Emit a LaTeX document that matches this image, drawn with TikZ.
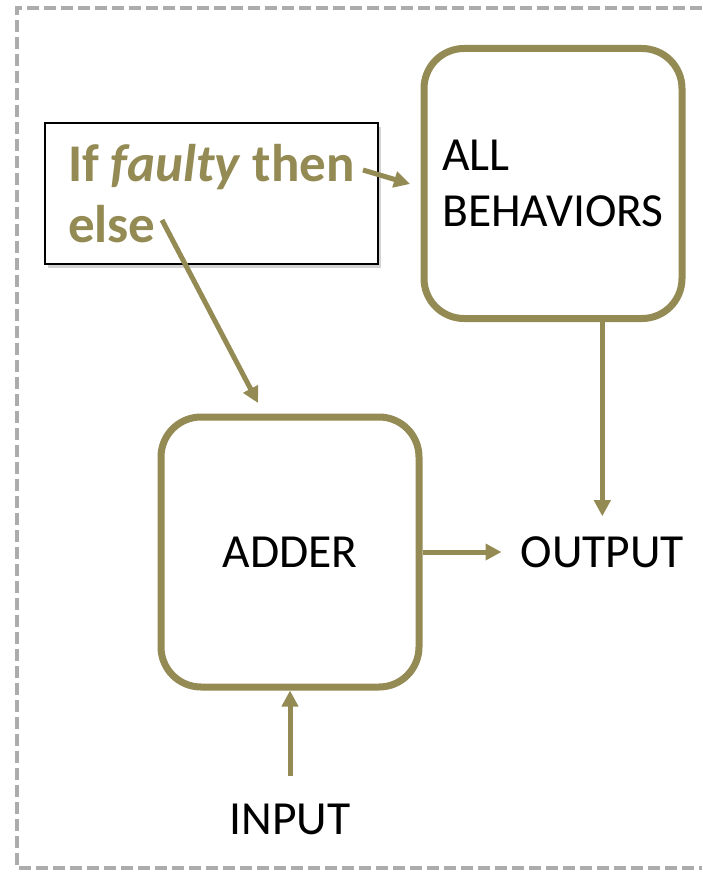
\documentclass[tikz,border=0pt]{standalone}
\usepackage{xcolor}
\usepackage{fontspec}
\setmainfont{Carlito}
\usepackage{tikz}
\usetikzlibrary{positioning,arrows.meta,shadows}

\definecolor{olive}{RGB}{148,138,84}
\definecolor{frame}{RGB}{172,172,172}

\begin{document}
\begin{tikzpicture}[
  x=1pt, y=-1pt,
  block/.style={draw=olive, line width=7pt, fill=white, rounded corners=40pt,
    minimum width=258pt, minimum height=270pt, font=\fontsize{47.5}{56}\selectfont,
    drop shadow={shadow xshift=2pt, shadow yshift=-3pt, opacity=0.18}},
  cond/.style={draw=black, line width=1.3pt, fill=white, minimum width=333pt,
    minimum height=141pt, align=left, text=olive,
    font=\fontsize{53}{61}\selectfont\bfseries,
    drop shadow={shadow xshift=3pt, shadow yshift=-4pt, opacity=0.35}},
  port/.style={inner xsep=19pt, inner ysep=20pt, font=\fontsize{47.5}{56}\selectfont},
  arrow/.style={-{Triangle[length=16pt, width=16pt]}, draw=olive, line width=5pt},
  node distance=80pt
]
\useasboundingbox (0,0) rectangle (702,872);
% dashed frame, open on the right
\draw[frame, line width=3.5pt, dash pattern=on 12pt off 5pt]
  (702,8) -- (17,8) -- (17,868) -- (702,868);

\node[block, align=left] (beh) at (553,183.5) {ALL\\BEHAVIORS};
\node[block] (adder) at (290,552) {ADDER};
\node[port, right=79pt of adder] (output) {OUTPUT};
\node[port, inner ysep=28pt, below=85pt of adder] (input) {INPUT};
\node[cond] (ite) at (211.5,193.5) {If \textit{faulty} then\\else};

\coordinate (ite-then) at (363,170);
\coordinate (ite-else) at (162,220);
\coordinate (beh-in) at (410,184);
\coordinate (adder-in) at (258,403);

\draw[arrow] (ite-then) -- (beh-in);
\draw[arrow] (ite-else) -- (adder-in);
\draw[arrow] (beh.south -| output.north) -- (output.north);
\draw[arrow] (adder) -- (output);
\draw[arrow] (input) -- (adder);
\end{tikzpicture}
\end{document}
